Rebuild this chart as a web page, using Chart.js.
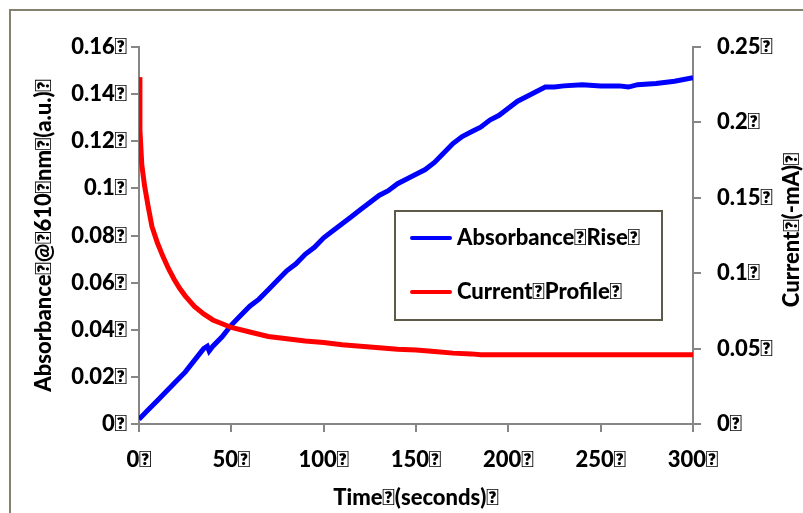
<!DOCTYPE html>
<html>
<head>
<meta charset="utf-8">
<script src="https://cdn.jsdelivr.net/npm/chart.js@4/dist/chart.umd.min.js"></script>
<style>
  html, body { margin: 0; padding: 0; background: #fff; }
</style>
</head>
<body>
<canvas id="chart" width="803" height="513"></canvas>
<script>
/* ---- Data ---- */
const BOX = "\uF020"; // the stray symbol-font space the source chart shows as a box

const absTime = [0, 5, 10, 15, 20, 25, 30, 35, 37, 38, 40, 45, 50, 55, 60, 65, 70, 75, 80, 85, 90, 95,
  100, 105, 110, 115, 120, 125, 130, 135, 140, 145, 150, 155, 160, 165, 170, 175, 180, 185, 190, 195,
  200, 205, 210, 215, 220, 225, 230, 240, 250, 260, 265, 270, 280, 290, 300];
const absorbance = [0.002, 0.006, 0.010, 0.014, 0.018, 0.022, 0.027, 0.032, 0.033, 0.031, 0.033, 0.037,
  0.042, 0.046, 0.050, 0.053, 0.057, 0.061, 0.065, 0.068, 0.072, 0.075, 0.079, 0.082, 0.085, 0.088,
  0.091, 0.094, 0.097, 0.099, 0.102, 0.104, 0.106, 0.108, 0.111, 0.115, 0.119, 0.122, 0.124, 0.126,
  0.129, 0.131, 0.134, 0.137, 0.139, 0.141, 0.143, 0.143, 0.1435, 0.144, 0.1435, 0.1435, 0.143,
  0.144, 0.1445, 0.1455, 0.147];

const curTime = [0, 0.5, 1.5, 3, 5, 7, 10, 13, 16, 19, 22, 25, 30, 35, 40, 45, 50, 60, 70, 80, 90,
  100, 110, 120, 130, 140, 150, 160, 170, 180, 185, 200, 250, 300];
const current = [0.230, 0.195, 0.172, 0.158, 0.144, 0.131, 0.120, 0.111, 0.103, 0.096, 0.090, 0.085,
  0.078, 0.073, 0.069, 0.0665, 0.064, 0.061, 0.058, 0.0565, 0.055, 0.054, 0.0525, 0.0515, 0.0505,
  0.0495, 0.049, 0.048, 0.047, 0.0465, 0.046, 0.046, 0.046, 0.046];

const xTicks = [0, 50, 100, 150, 200, 250, 300];
const absTicks = [0, 0.02, 0.04, 0.06, 0.08, 0.1, 0.12, 0.14, 0.16];
const curTicks = [0, 0.05, 0.1, 0.15, 0.2, 0.25];

const seriesNames = ["Absorbance" + BOX + "Rise" + BOX, "Current" + BOX + "Profile" + BOX];
const seriesColors = ["#0000FF", "#FF0000"];

/* ---- Styling ---- */
const FONT = { family: "Lato, 'Open Sans', sans-serif", size: 22, weight: "900" };
const AXIS = "#868686";
const FRAME = "#858070";

const pairs = (xs, ys) => xs.map((x, i) => ({ x: x, y: ys[i] }));
const fixTicks = list => scale => { scale.ticks = list.map(v => ({ value: v })); };
const boxed = v => String(v) + BOX;

/* ---- Plugins: outer frame, legend box, right title ---- */
const framePlugin = {
  id: "frame",
  beforeDraw(chart) {
    const ctx = chart.ctx;
    ctx.save();
    ctx.fillStyle = "#fff";
    ctx.fillRect(0, 0, chart.width, chart.height);
    ctx.strokeStyle = FRAME;
    ctx.lineWidth = 2;
    ctx.strokeRect(10, 10, chart.width + 20, chart.height + 20);
    ctx.restore();
  }
};

const legendBoxPlugin = {
  id: "legendBox",
  afterDatasetsDraw(chart) {
    const ctx = chart.ctx;
    ctx.save();
    ctx.fillStyle = "#fff";
    ctx.fillRect(395, 211, 267, 109);
    ctx.strokeStyle = "#5e5a48";
    ctx.lineWidth = 2;
    ctx.strokeRect(395, 211, 267, 109);
    ctx.font = `${FONT.weight} ${FONT.size}px ${FONT.family}`;
    ctx.textBaseline = "middle";
    ctx.textAlign = "left";
    ctx.lineCap = "round";
    const rows = [238, 292];
    seriesNames.forEach((name, i) => {
      ctx.strokeStyle = seriesColors[i];
      ctx.lineWidth = 4;
      ctx.beginPath();
      ctx.moveTo(412, rows[i]);
      ctx.lineTo(450, rows[i]);
      ctx.stroke();
      ctx.fillStyle = "#000";
      ctx.fillText(name, 457, rows[i]);
    });
    ctx.restore();
  }
};

const rightTitlePlugin = {
  id: "rightTitle",
  afterDraw(chart) {
    const ctx = chart.ctx;
    ctx.save();
    ctx.translate(792, 230);
    ctx.rotate(-Math.PI / 2);
    ctx.font = `${FONT.weight} ${FONT.size}px ${FONT.family}`;
    ctx.fillStyle = "#000";
    ctx.textAlign = "center";
    ctx.textBaseline = "middle";
    ctx.fillText("Current" + BOX + "(-mA)" + BOX, 0, 0);
    ctx.restore();
  }
};

/* ---- Chart ---- */
new Chart(document.getElementById("chart"), {
  type: "line",
  data: {
    datasets: [
      {
        label: seriesNames[0],
        data: pairs(absTime, absorbance),
        borderColor: seriesColors[0],
        borderWidth: 5,
        pointRadius: 0,
        tension: 0,
        yAxisID: "y",
        order: 1
      },
      {
        label: seriesNames[1],
        data: pairs(curTime, current),
        borderColor: seriesColors[1],
        borderWidth: 5,
        pointRadius: 0,
        tension: 0,
        yAxisID: "y1",
        order: 0
      }
    ]
  },
  options: {
    responsive: false,
    animation: false,
    devicePixelRatio: 1,
    layout: { padding: { top: 47, left: 0, right: 0, bottom: 0 } },
    plugins: { legend: { display: false }, tooltip: { enabled: false } },
    scales: {
      x: {
        type: "linear",
        position: "bottom",
        min: 0,
        max: 300,
        afterBuildTicks: fixTicks(xTicks),
        afterFit: s => { s.height = 89; },
        grid: { drawOnChartArea: false, color: AXIS, lineWidth: 2, tickLength: 8 },
        border: { color: AXIS, width: 2 },
        ticks: { color: "#000", font: FONT, padding: 15, maxRotation: 0, autoSkip: false, callback: boxed },
        title: { display: true, text: "Time" + BOX + "(seconds)" + BOX, color: "#000", font: FONT, padding: { top: 0, bottom: 2 } }
      },
      y: {
        position: "left",
        min: 0,
        max: 0.16,
        afterBuildTicks: fixTicks(absTicks),
        afterFit: s => { s.width = 139; },
        grid: { drawOnChartArea: false, color: AXIS, lineWidth: 2, tickLength: 8 },
        border: { color: AXIS, width: 2 },
        ticks: { color: "#000", font: FONT, padding: 4, autoSkip: false, callback: boxed },
        title: {
          display: true,
          text: "Absorbance" + BOX + "@" + BOX + "610" + BOX + "nm" + BOX + "(a.u.)" + BOX,
          color: "#000", font: FONT, padding: { top: 31, bottom: 0 }
        }
      },
      y1: {
        position: "right",
        min: 0,
        max: 0.25,
        afterBuildTicks: fixTicks(curTicks),
        afterFit: s => { s.width = 110; },
        grid: { drawOnChartArea: false, color: AXIS, lineWidth: 2, tickLength: 8 },
        border: { color: AXIS, width: 2 },
        ticks: { color: "#000", font: FONT, padding: 16, autoSkip: false, callback: boxed }
      }
    }
  },
  plugins: [framePlugin, legendBoxPlugin, rightTitlePlugin]
});
</script>
</body>
</html>
